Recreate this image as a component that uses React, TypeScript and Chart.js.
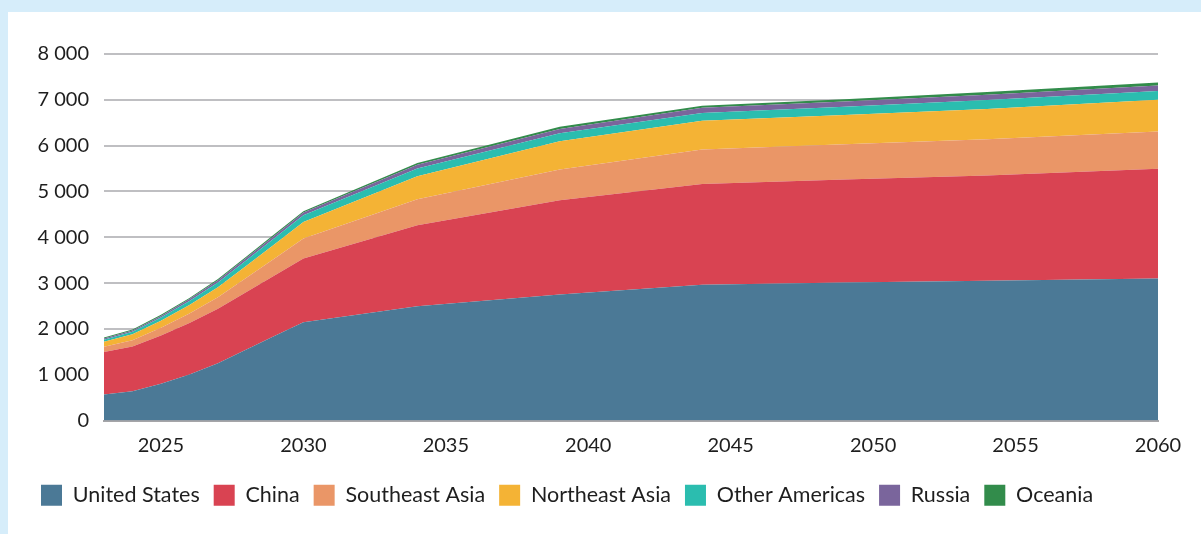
import React, { useEffect, useRef } from "react";
import { Chart, registerables } from "chart.js";

Chart.register(...registerables);

const years = [2023, 2024, 2025, 2026, 2027, 2028, 2029, 2030, 2034, 2039, 2044, 2049, 2054, 2060];
const unitedStates = [570, 640, 800, 1005, 1250, 1550, 1850, 2145, 2495, 2750, 2965, 3010, 3050, 3097];
const china = [925, 977, 1058, 1125, 1190, 1255, 1320, 1390, 1765, 2060, 2195, 2250, 2300, 2397];
const southeastAsia = [115, 135, 165, 205, 250, 310, 370, 435, 570, 670, 758, 770, 790, 816];
const northeastAsia = [110, 130, 155, 185, 220, 265, 315, 365, 503, 618, 627, 640, 660, 691];
const otherAmericas = [45, 55, 70, 90, 105, 120, 135, 145, 165, 170, 165, 180, 195, 190];
const russia = [25, 30, 35, 40, 45, 50, 55, 60, 85, 95, 115, 115, 115, 124];
const oceania = [20, 22, 24, 25, 27, 28, 29, 30, 40, 50, 45, 50, 60, 65];

const xTickYears = [2025, 2030, 2035, 2040, 2045, 2050, 2055, 2060];

const seriesNames = ["United States", "China", "Southeast Asia", "Northeast Asia", "Other Americas", "Russia", "Oceania"];
const seriesValues = [unitedStates, china, southeastAsia, northeastAsia, otherAmericas, russia, oceania];
const seriesColors = ["#4b7996", "#d94352", "#ea9667", "#f4b335", "#2bbdaf", "#7a659c", "#328c4b"];

const fmt = (v: number) => String(v).replace(/\B(?=(\d{3})+(?!\d))/g, " ");

export default function App() {
  const ref = useRef<HTMLCanvasElement | null>(null);
  useEffect(() => {
    if (!ref.current) return;
    const chart = new Chart(ref.current, {
      type: "line",
      data: {
        datasets: seriesNames.map((name, i) => ({
          label: name,
          data: years.map((y, j) => ({ x: y, y: seriesValues[i][j] })),
          backgroundColor: seriesColors[i],
          borderColor: seriesColors[i],
          borderWidth: 0,
          pointRadius: 0,
          fill: i === 0 ? "origin" : "-1",
          tension: 0,
        })),
      },
      options: {
        animation: false,
        responsive: false,
        maintainAspectRatio: false,
        layout: { padding: { left: 19, right: 43, top: 42, bottom: 18 } },
        plugins: {
          tooltip: { enabled: false },
          legend: {
            position: "bottom",
            align: "start",
            labels: {
              boxWidth: 21,
              boxHeight: 21,
              padding: 14,
              color: "#1e1e1e",
              font: { family: "Lato", size: 21.5 },
            },
          },
        },
        scales: {
          x: {
            type: "linear",
            min: 2023,
            max: 2060,
            afterBuildTicks: (scale: any) => {
              scale.ticks = xTickYears.map((v) => ({ value: v }));
            },
            afterFit: (scale: any) => {
              scale.height = 50;
            },
            ticks: {
              padding: 13,
              maxRotation: 0,
              autoSkip: false,
              color: "#1e1e1e",
              font: { family: "Lato", size: 20 },
              callback: (v: any) => String(v),
            },
            grid: { display: false, drawTicks: false },
            border: { display: true, color: "#a5a5a8", width: 2 },
          },
          y: {
            stacked: true,
            min: 0,
            max: 8000,
            afterFit: (scale: any) => {
              scale.width = 77;
            },
            ticks: {
              stepSize: 1000,
              padding: 15,
              color: "#1e1e1e",
              font: { family: "Lato", size: 20 },
              callback: (v: any) => fmt(Number(v)),
            },
            grid: { color: "#bfbfc2", lineWidth: 2, drawTicks: false },
            border: { display: false },
          },
        },
      },
    });
    return () => chart.destroy();
  }, []);
  return (
    <div style={{ position: "fixed", left: 0, top: 0, width: 1201, height: 534, background: "#d6edfa" }}>
      <div style={{ position: "absolute", left: 8, top: 12, width: 1193, height: 522, background: "#fff" }}>
        <canvas ref={ref} width={1193} height={522} style={{ display: "block" }} />
      </div>
    </div>
  );
}
